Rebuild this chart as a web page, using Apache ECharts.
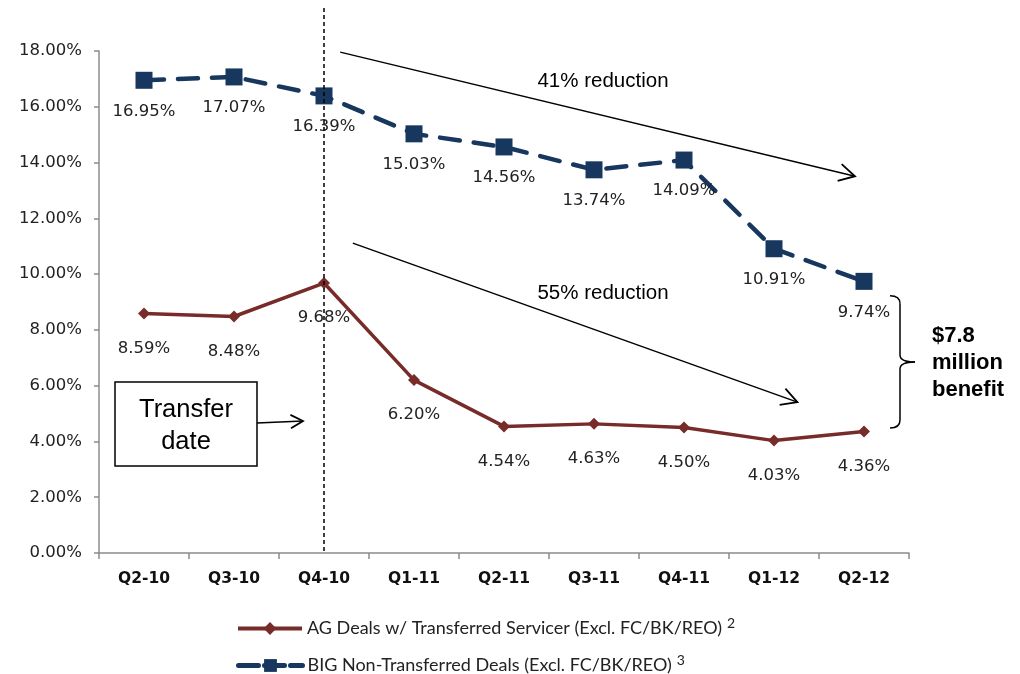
<!DOCTYPE html>
<html>
<head>
<meta charset="utf-8">
<script src="https://cdn.jsdelivr.net/npm/echarts@6/dist/echarts.min.js"></script>
<style>
  html, body { margin: 0; padding: 0; background: #fff; }
  #chart { width: 1020px; height: 674px; }
</style>
</head>
<body>
<div id="chart"></div>
<script>
// Quarterly roll rates, two deal groups
const quarters = ['Q2-10', 'Q3-10', 'Q4-10', 'Q1-11', 'Q2-11', 'Q3-11', 'Q4-11', 'Q1-12', 'Q2-12'];
const agDeals = [8.59, 8.48, 9.68, 6.20, 4.54, 4.63, 4.50, 4.03, 4.36];
const bigDeals = [16.95, 17.07, 16.39, 15.03, 14.56, 13.74, 14.09, 10.91, 9.74];
const yTicks = [0, 2, 4, 6, 8, 10, 12, 14, 16, 18];

const agName = 'AG Deals w/ Transferred Servicer (Excl. FC/BK/REO)';
const bigName = 'BIG Non-Transferred Deals (Excl. FC/BK/REO)';
const footnotes = { [agName]: '2', [bigName]: '3' };

const RED = '#772C2A';
const NAVY = '#17375E';
const LABEL_FONT = 'DejaVu Sans';
const NOTE_FONT = 'Liberation Sans';
const LEGEND_FONT = 'Lato';

const chart = echarts.init(document.getElementById('chart'), null, { renderer: 'canvas' });

const pctLabel = (v) => v.toFixed(2) + '%';

function legendFor(name, top, lineStyle) {
  return {
    orient: 'horizontal',
    left: 236,
    top: top,
    padding: 0,
    itemWidth: 64,
    itemHeight: 16,
    data: [name],
    lineStyle: lineStyle,
    formatter: (n) => '{t|' + n + '}{s|' + footnotes[n] + '}',
    textStyle: {
      rich: {
        t: { fontFamily: LEGEND_FONT, fontSize: 18, color: '#222', lineHeight: 24 },
        s: { fontFamily: LEGEND_FONT, fontSize: 14, color: '#222', lineHeight: 13, padding: [0, 0, 11, 5] }
      }
    }
  };
}

chart.setOption({
  animation: false,
  backgroundColor: '#ffffff',
  grid: { left: 99, right: 111, top: 51, bottom: 121, containLabel: false },
  xAxis: {
    type: 'category',
    data: quarters,
    boundaryGap: true,
    axisLine: { lineStyle: { color: '#8c8c8c', width: 1.5 } },
    axisTick: { show: true, length: 6, lineStyle: { color: '#8c8c8c', width: 1.5 } },
    axisLabel: { margin: 18, color: '#111', fontFamily: LABEL_FONT, fontWeight: 'bold', fontSize: 15.5 },
    splitLine: { show: false }
  },
  yAxis: {
    type: 'value',
    min: yTicks[0],
    max: yTicks[yTicks.length - 1],
    interval: yTicks[1] - yTicks[0],
    axisLine: { show: true, lineStyle: { color: '#8c8c8c', width: 1.5 } },
    axisTick: { show: true, length: 5, lineStyle: { color: '#8c8c8c', width: 1.5 } },
    axisLabel: { margin: 17, color: '#222', fontFamily: LABEL_FONT, fontSize: 16.5, formatter: pctLabel },
    splitLine: { show: false }
  },
  legend: [
    legendFor(agName, 616, { width: 4, color: RED }),
    legendFor(bigName, 653, { width: 5, color: NAVY, type: [20, 6], cap: 'round' })
  ],
  series: [
    {
      name: agName,
      type: 'line',
      data: agDeals,
      symbol: 'diamond',
      symbolSize: 12,
      itemStyle: { color: RED },
      lineStyle: { color: RED, width: 3.5 },
      label: {
        show: true, position: 'inside', offset: [0, 35],
        color: '#222', fontFamily: LABEL_FONT, fontSize: 16.5,
        formatter: (p) => pctLabel(p.value)
      },
      z: 3
    },
    {
      name: bigName,
      type: 'line',
      data: bigDeals,
      symbol: 'rect',
      symbolSize: 17,
      itemStyle: { color: NAVY },
      lineStyle: { color: NAVY, width: 4.5, type: [20, 14], cap: 'round' },
      label: {
        show: true, position: 'inside', offset: [0, 31],
        color: '#222', fontFamily: LABEL_FONT, fontSize: 16.5,
        formatter: (p) => pctLabel(p.value)
      },
      z: 4
    }
  ]
});

// Annotation layer placed in data space (fractional category positions interpolated)
function px(i, v) {
  const i0 = Math.max(0, Math.min(quarters.length - 2, Math.floor(i)));
  const p0 = chart.convertToPixel({ gridIndex: 0 }, [i0, v]);
  const p1 = chart.convertToPixel({ gridIndex: 0 }, [i0 + 1, v]);
  return [p0[0] + (i - i0) * (p1[0] - p0[0]), p0[1]];
}

function arrow(from, to, head) {
  const ang = Math.atan2(to[1] - from[1], to[0] - from[0]);
  const a1 = ang + Math.PI - 0.5, a2 = ang + Math.PI + 0.5;
  return [
    { type: 'line', shape: { x1: from[0], y1: from[1], x2: to[0], y2: to[1] }, style: { stroke: '#000', lineWidth: 1.5 }, z: 10 },
    {
      type: 'polyline',
      shape: { points: [[to[0] + head * Math.cos(a1), to[1] + head * Math.sin(a1)], to, [to[0] + head * Math.cos(a2), to[1] + head * Math.sin(a2)]] },
      style: { stroke: '#000', lineWidth: 1.8, fill: null }, z: 10
    }
  ];
}

function note(x, y, text, size, extra) {
  return {
    type: 'text', x: x, y: y, z: 11,
    style: Object.assign({
      text: text, fill: '#000', fontFamily: NOTE_FONT, fontSize: size,
      align: 'center', verticalAlign: 'middle'
    }, extra || {})
  };
}

const transferX = px(2, 0)[0];
const gridTop = px(0, 18)[1];
const gridBottom = px(0, 0)[1];

const a1s = px(2.18, 17.96), a1e = px(7.9, 13.51);
const a2s = px(2.32, 11.11), a2e = px(7.26, 5.41);
const t1 = px(5.1, 16.92), t2 = px(5.1, 9.32);

// Brace spanning the gap between the two series at the last quarter
const bx = px(8.4, 0)[0];
const bTop = px(8, 9.22)[1], bBot = px(8, 4.48)[1];
const bMid = (bTop + bBot) / 2;
const braceStyle = { stroke: '#000', lineWidth: 1.5, fill: null };
const brace = [
  { type: 'bezierCurve', shape: { x1: bx - 10, y1: bTop, cpx1: bx, cpy1: bTop, x2: bx, y2: bTop + 8 }, style: braceStyle, z: 10 },
  { type: 'line', shape: { x1: bx, y1: bTop + 8, x2: bx, y2: bMid - 7 }, style: braceStyle, z: 10 },
  { type: 'bezierCurve', shape: { x1: bx, y1: bMid - 7, cpx1: bx, cpy1: bMid, x2: bx + 15, y2: bMid }, style: braceStyle, z: 10 },
  { type: 'bezierCurve', shape: { x1: bx + 15, y1: bMid, cpx1: bx, cpy1: bMid, x2: bx, y2: bMid + 7 }, style: braceStyle, z: 10 },
  { type: 'line', shape: { x1: bx, y1: bMid + 7, x2: bx, y2: bBot - 8 }, style: braceStyle, z: 10 },
  { type: 'bezierCurve', shape: { x1: bx, y1: bBot - 8, cpx1: bx, cpy1: bBot, x2: bx - 10, y2: bBot }, style: braceStyle, z: 10 }
];

// Transfer-date call-out box
const boxL = 115, boxT = 382, boxW = 142, boxH = 84;

chart.setOption({
  graphic: [
    {
      type: 'line',
      shape: { x1: transferX, y1: gridTop - 43, x2: transferX, y2: gridBottom },
      style: { stroke: '#000', lineWidth: 1.5, lineDash: [4, 3] }, z: 10
    },
    ...arrow(a1s, a1e, 18),
    ...arrow(a2s, a2e, 18),
    note(t1[0], t1[1], '41% reduction', 20.5),
    note(t2[0], t2[1], '55% reduction', 20.5),
    {
      type: 'rect', shape: { x: boxL, y: boxT, width: boxW, height: boxH },
      style: { stroke: '#000', lineWidth: 1.5, fill: '#fff' }, z: 10
    },
    note(boxL + boxW / 2, boxT + boxH / 2 + 2, 'Transfer\ndate', 25.5, { lineHeight: 32 }),
    ...arrow([boxL + boxW, 423], [303, 421], 14),
    ...brace,
    note(932, bMid + 1, '$7.8\nmillion\nbenefit', 22, { fontWeight: 'bold', align: 'left', lineHeight: 27 })
  ]
});
</script>
</body>
</html>
